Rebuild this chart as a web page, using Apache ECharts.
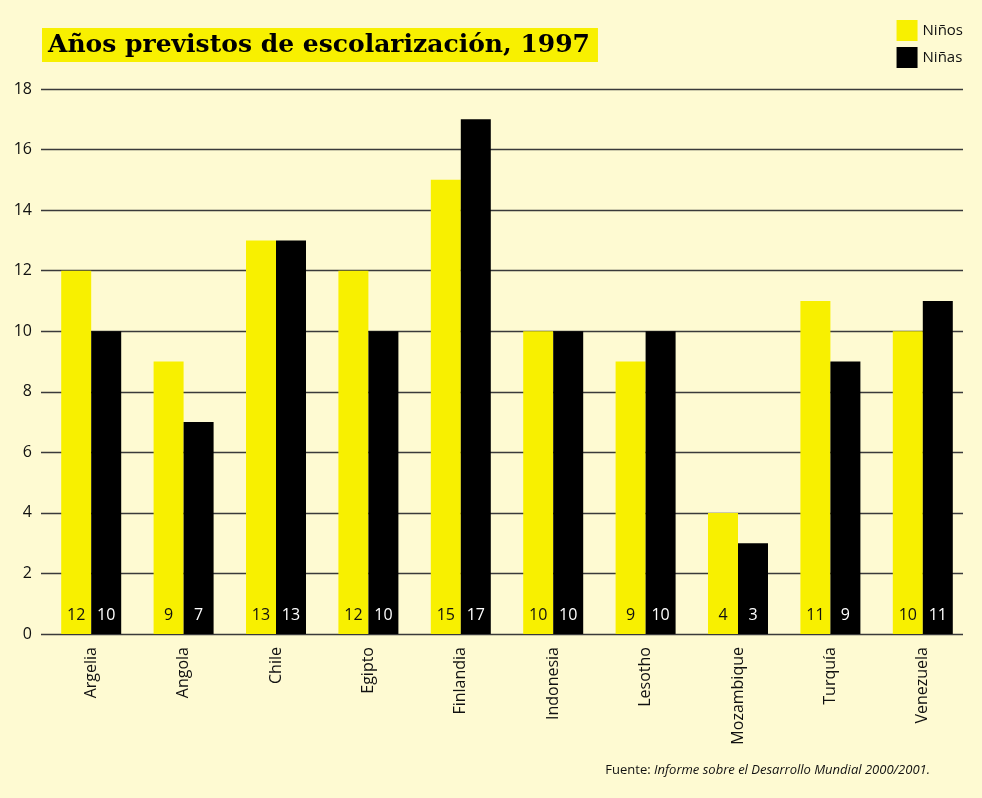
<!DOCTYPE html>
<html>
<head>
<meta charset="utf-8">
<script src="https://cdn.jsdelivr.net/npm/echarts@6/dist/echarts.min.js"></script>
<style>
html,body{margin:0;padding:0;background:#fefad2;}
#c{width:982px;height:798px;}
</style>
</head>
<body>
<div id="c"></div>
<script>
const categories = ['Argelia','Angola','Chile','Egipto','Finlandia','Indonesia','Lesotho','Mozambique','Turquía','Venezuela'];
const ninos = [12, 9, 13, 12, 15, 10, 9, 4, 11, 10];
const ninas = [10, 7, 13, 10, 17, 10, 10, 3, 9, 11];
const yTicks = [0, 2, 4, 6, 8, 10, 12, 14, 16, 18];
const titleText = 'Años previstos de escolarización, 1997';

const chart = echarts.init(document.getElementById('c'), null, {renderer: 'canvas'});
const sans = '"Open Sans", "Noto Sans", sans-serif';
const gridTop = 89, gridBottom = 164;

chart.setOption({
  backgroundColor: '#fefad2',
  animation: false,
  textStyle: {fontFamily: sans},
  title: {
    text: titleText,
    left: 42, top: 28,
    padding: [3, 8, 3, 6],
    backgroundColor: '#f8f000',
    textStyle: {fontFamily: '"DejaVu Serif", "Liberation Serif", serif', fontWeight: 'bold', fontSize: 25, color: '#000', lineHeight: 28}
  },
  legend: {
    orient: 'vertical',
    right: 14, top: 15,
    itemWidth: 21, itemHeight: 21, itemGap: 6,
    icon: 'rect',
    textStyle: {fontFamily: sans, fontSize: 15, color: '#111'},
    data: ['Niños', 'Niñas']
  },
  grid: [
    {left: 41, right: 19, top: gridTop, bottom: gridBottom, containLabel: false},
    {left: 45, right: 13, top: gridTop, bottom: gridBottom, containLabel: false}
  ],
  xAxis: [
    {type: 'value', gridIndex: 0, show: false, min: 0, max: 1},
    {type: 'category', gridIndex: 1, data: categories,
     axisLine: {show: false}, axisTick: {show: false},
     axisLabel: {rotate: 90, margin: 13, fontSize: 16, color: '#111', fontFamily: sans}}
  ],
  yAxis: [
    {type: 'value', gridIndex: 0, min: 0, max: 18, interval: 2,
     axisLine: {show: false}, axisTick: {show: false},
     axisLabel: {margin: 9, fontSize: 16, color: '#111', fontFamily: sans,
       formatter: v => yTicks.includes(v) ? String(v) : ''},
     splitLine: {show: true, lineStyle: {color: '#3a3a3a', width: 1.3}}},
    {type: 'value', gridIndex: 1, min: 0, max: 18, interval: 2, show: false,
     splitLine: {show: false}}
  ],
  series: [
    {name: 'Niños', type: 'bar', xAxisIndex: 1, yAxisIndex: 1, data: ninos,
     barWidth: 30, barGap: '0%', itemStyle: {color: '#f8f000'},
     label: {show: true, position: 'insideBottom', distance: 11, fontSize: 16, color: '#111', fontFamily: sans}},
    {name: 'Niñas', type: 'bar', xAxisIndex: 1, yAxisIndex: 1, data: ninas,
     barWidth: 30, barGap: '0%', itemStyle: {color: '#000'},
     label: {show: true, position: 'insideBottom', distance: 11, fontSize: 16, color: '#fff', fontFamily: sans}}
  ],
  graphic: [
    {type: 'text', right: 52, top: 764,
     style: {
       text: '{n|Fuente: }{i|Informe sobre el Desarrollo Mundial 2000/2001.}',
       rich: {
         n: {fontFamily: sans, fontSize: 13, fill: '#111'},
         i: {fontFamily: sans, fontSize: 13, fontStyle: 'italic', fill: '#111'}
       }
     }}
  ]
});
</script>
</body>
</html>
